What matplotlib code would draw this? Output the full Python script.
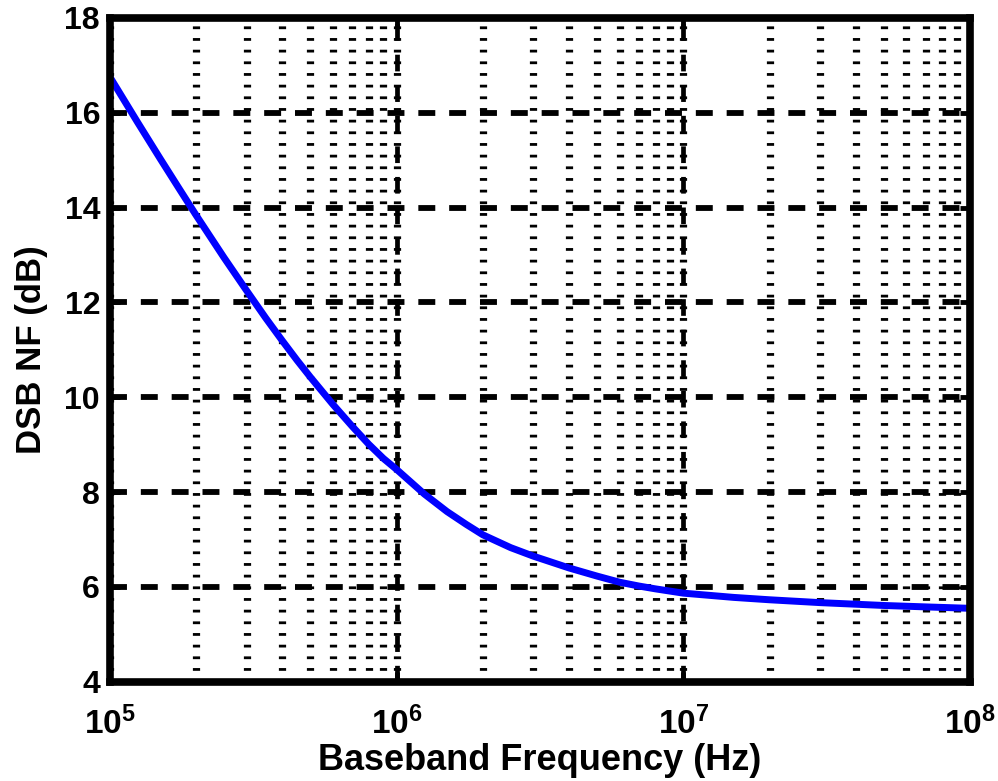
import matplotlib.pyplot as plt
from matplotlib.ticker import FixedLocator, NullFormatter

plt.rcParams['font.family'] = ['Liberation Sans', 'DejaVu Sans']
plt.rcParams['font.weight'] = 'bold'
plt.rcParams['mathtext.fontset'] = 'custom'
plt.rcParams['mathtext.rm'] = 'Liberation Sans:bold'
plt.rcParams['mathtext.bf'] = 'Liberation Sans:bold'
plt.rcParams['mathtext.it'] = 'Liberation Sans:bold'
plt.rcParams['lines.scale_dashes'] = False

# curve
freq_hz = [1e5, 1.25e5, 1.5e5, 1.75e5, 2e5, 2.5e5, 3e5, 3.5e5, 4e5, 4.5e5,
           5e5, 6e5, 7e5, 8e5, 9e5, 1e6, 1.25e6, 1.5e6, 1.75e6, 2e6, 2.5e6,
           3e6, 4e6, 5e6, 6e6, 7e6, 8e6, 1e7, 1.5e7, 2e7, 3e7, 5e7, 7e7, 1e8]
nf_db = [16.76, 15.80, 15.03, 14.39, 13.84, 12.95, 12.25, 11.67, 11.19, 10.78,
         10.43, 9.85, 9.39, 9.01, 8.71, 8.48, 7.96, 7.59, 7.32, 7.10, 6.83,
         6.65, 6.40, 6.23, 6.10, 6.02, 5.96, 5.87, 5.78, 5.73, 5.67, 5.61, 5.58, 5.55]

x_ticks = [1e5, 1e6, 1e7, 1e8]
x_tick_labels = [r'$\mathbf{10^{5}}$', r'$\mathbf{10^{6}}$', r'$\mathbf{10^{7}}$', r'$\mathbf{10^{8}}$']
y_ticks = [4, 6, 8, 10, 12, 14, 16, 18]
minor_subs = [1, 2, 3, 4, 5, 6, 7, 8, 9]

fig = plt.figure(figsize=(9.98, 7.81), dpi=100)
ax = fig.add_axes([0.110, 0.127, 0.862, 0.850])

ax.semilogx(freq_hz, nf_db, color='#0000ff', linewidth=5, zorder=3,
            solid_capstyle='butt', solid_joinstyle='round')

ax.set_xlim(1e5, 1e8)
ax.set_ylim(4, 18)

ax.set_xticks(x_ticks)
ax.set_xticklabels(x_tick_labels, fontsize=24)
minor_locs = [s * 10 ** e for e in range(5, 8) for s in minor_subs]
ax.xaxis.set_minor_locator(FixedLocator(minor_locs))
ax.xaxis.set_minor_formatter(NullFormatter())
ax.xaxis.remove_overlapping_locs = False
ax.set_yticks(y_ticks)
ax.set_yticklabels([str(v) for v in y_ticks], fontsize=23, fontweight='bold')

# grids, MATLAB style
ax.grid(which='minor', axis='x', color='black', linewidth=5.2,
        dashes=(2.0, 6.4), zorder=1)
ax.grid(which='major', axis='x', color='black', linewidth=3.4,
        dashes=(12.0, 10.0), zorder=1)
ax.grid(which='major', axis='y', color='black', linewidth=4.2,
        dashes=(12.2, 10.0), zorder=1)
ax.set_axisbelow(True)

ax.tick_params(which='major', direction='in', length=7, width=3.5,
               top=True, right=True, pad=7)
ax.tick_params(which='minor', length=0, top=True)
ax.tick_params(axis='x', which='major', pad=18)

for spine in ax.spines.values():
    spine.set_linewidth(5.5)
    spine.set_zorder(4)

ax.set_xlabel('Baseband Frequency (Hz)', fontsize=26, fontweight='bold', labelpad=1)
ax.set_ylabel('DSB NF (dB)', fontsize=25, fontweight='bold', labelpad=12)

fig.savefig('out.png', dpi=100, facecolor='white')
plt.close(fig)
